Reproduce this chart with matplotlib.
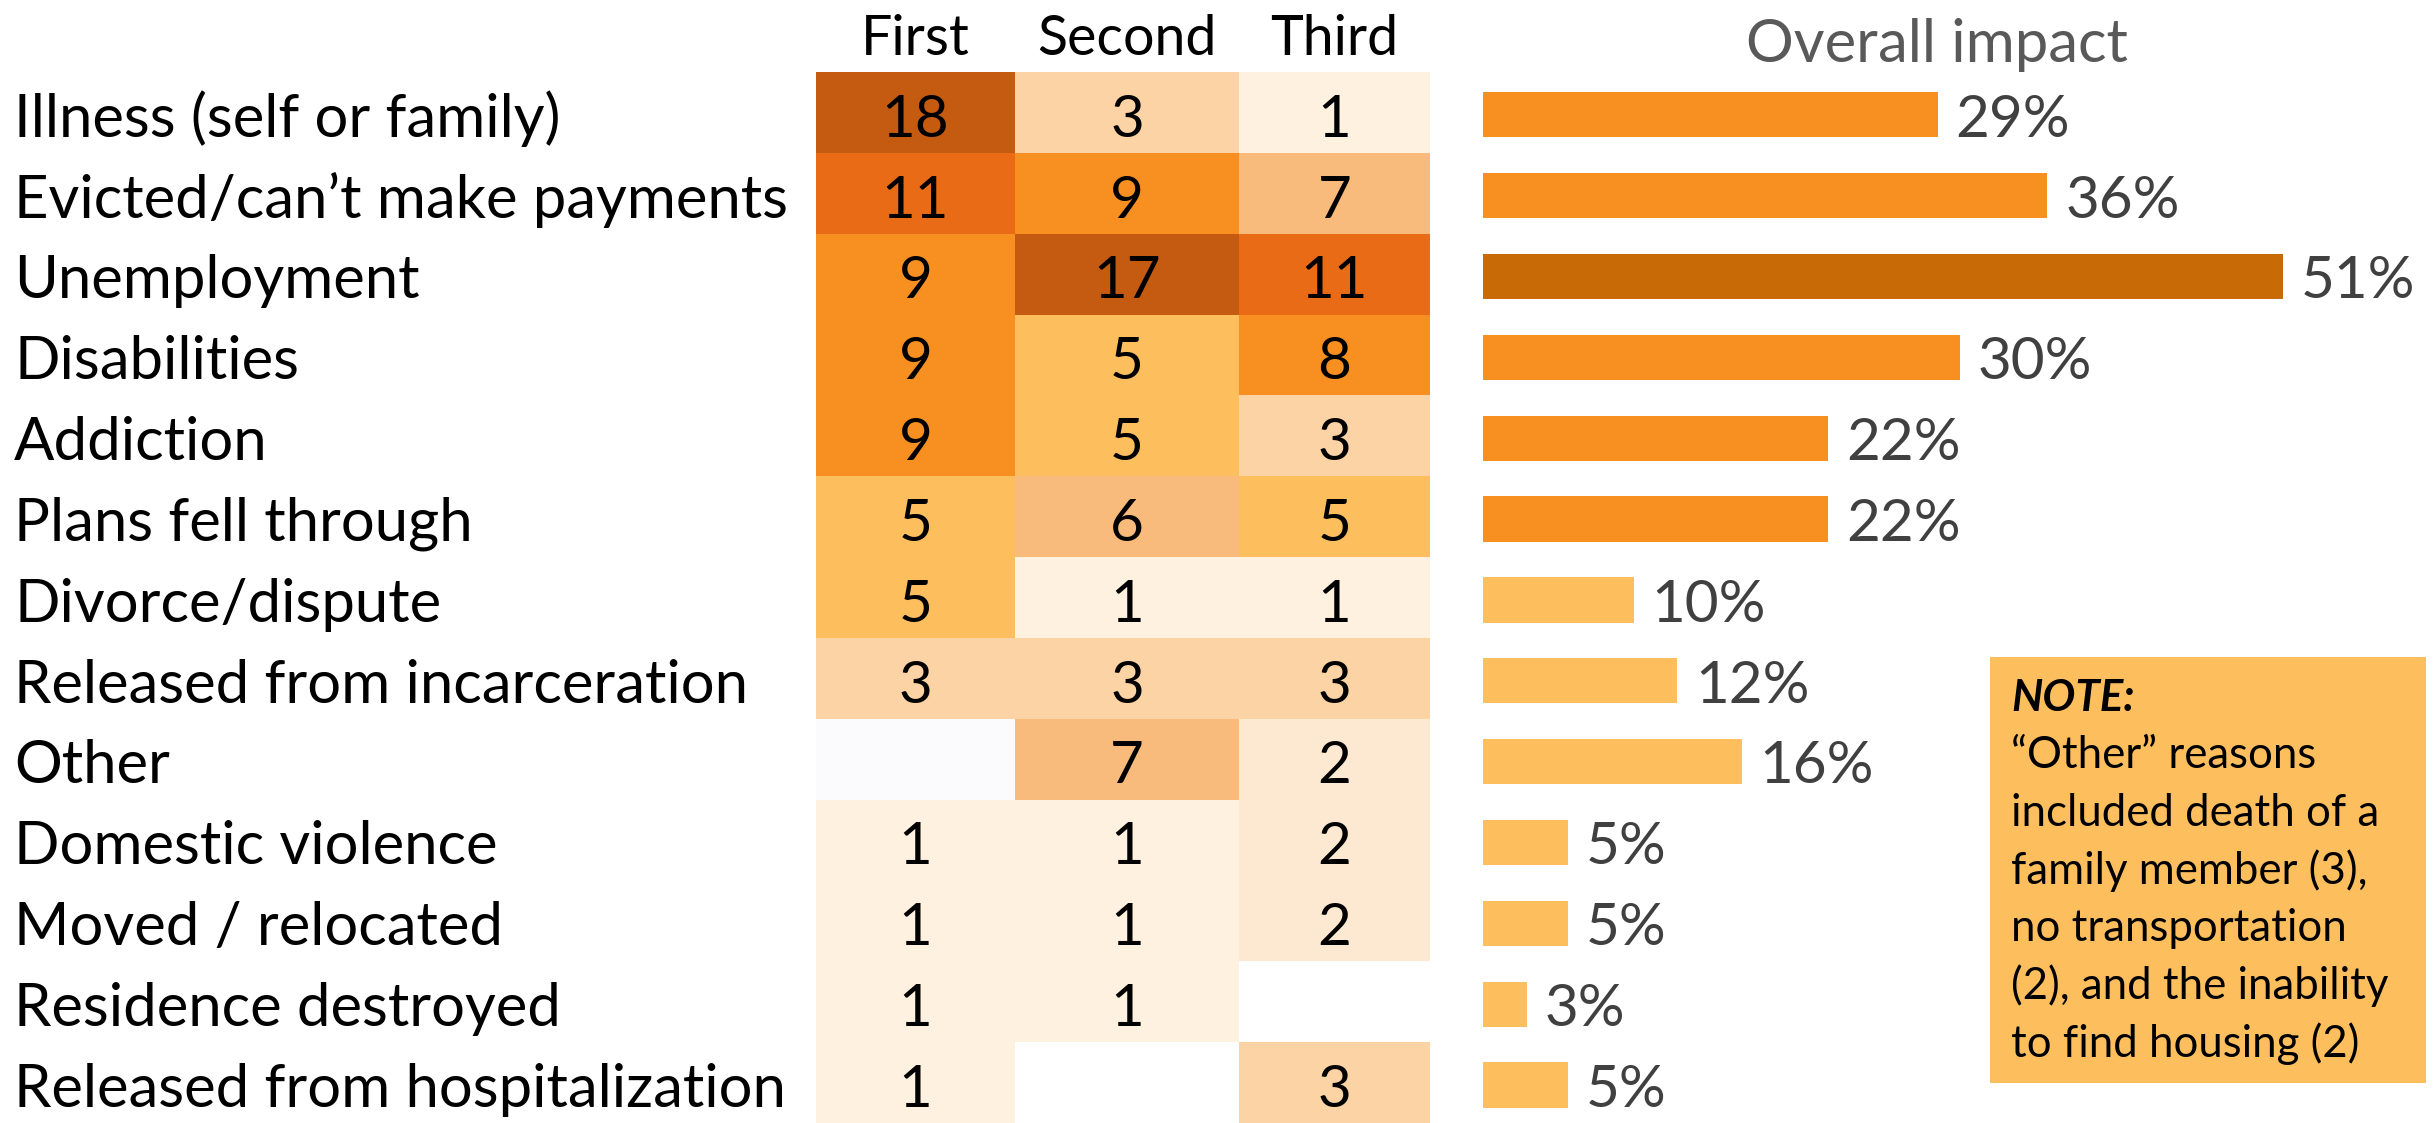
import numpy as np
import matplotlib
matplotlib.use("Agg")
import matplotlib.pyplot as plt
from matplotlib.colors import ListedColormap, BoundaryNorm
from matplotlib.patches import Rectangle
import matplotlib.transforms as mtransforms

# ---------------- data ----------------
reasons = [
    "Illness (self or family)",
    "Evicted/can\u2019t make payments",
    "Unemployment",
    "Disabilities",
    "Addiction",
    "Plans fell through",
    "Divorce/dispute",
    "Released from incarceration",
    "Other",
    "Domestic violence",
    "Moved / relocated",
    "Residence destroyed",
    "Released from hospitalization",
]
rank_labels = ["First", "Second", "Third"]
first = [18, 11, 9, 9, 9, 5, 5, 3, 0, 1, 1, 1, 1]
second = [3, 9, 17, 5, 5, 6, 1, 3, 7, 1, 1, 1, None]
third = [1, 7, 11, 8, 3, 5, 1, 3, 2, 2, 2, None, 3]
impact = [29, 36, 51, 30.4, 22, 22, 9.6, 12.4, 16.5, 5.4, 5.4, 2.8, 5.4]
impact_labels = ["29%", "36%", "51%", "30%", "22%", "22%", "10%", "12%",
                 "16%", "5%", "5%", "3%", "5%"]
impact_title = "Overall impact"
note_title = "NOTE:"
note_lines = [
    "\u201cOther\u201d reasons",
    "included death of a",
    "family member (3),",
    "no transportation",
    "(2), and the inability",
    "to find housing (2)",
]

# ---------------- layout ----------------
W, H = 2433, 1123
plt.rcParams["font.family"] = ["Lato", "DejaVu Sans"]
fig = plt.figure(figsize=(W / 100, H / 100), dpi=100)


def fx(px):
    return px / W


def fy(py):
    return 1 - py / H


FS_ROW = 43
FS_HEAD = 40
FS_CELL = 42
FS_BAR = 42
FS_TITLE = 43
top_px, bot_px = 72, 1123
hm_left, hm_right = 816, 1430
n = len(reasons)
base_off = 0.80  # baseline position inside a row (row units)

ax = fig.add_axes([fx(hm_left), fy(bot_px), (hm_right - hm_left) / W,
                   (bot_px - top_px) / H])
col_edges = np.array([0, 199, 423, 614]) / 614 * 3
Z = np.array([first, second, third], dtype=float).T
Zm = np.ma.masked_invalid(Z)

colors = ["#FBFBFD", "#FEF1DF", "#FDE8D2", "#FBD3A5", "#FDBF5D",
          "#F9BB7B", "#F79020", "#EA6B15", "#C55A11"]
bounds = [-0.5, 0.5, 1.5, 2.5, 4, 5.5, 7.5, 10, 14, 19]
cmap = ListedColormap(colors)
norm = BoundaryNorm(bounds, cmap.N)
ax.pcolormesh(col_edges, np.arange(n + 1), Zm, cmap=cmap, norm=norm,
              edgecolor="none", antialiased=False)
ax.set_xlim(0, 3)
ax.set_ylim(n, 0)
ax.axis("off")

centers = (col_edges[:-1] + col_edges[1:]) / 2
for i in range(n):
    for j in range(3):
        v = Z[i, j]
        if np.isfinite(v) and v > 0:
            ax.text(centers[j], i + base_off, str(int(v)), ha="center",
                    va="baseline", fontsize=FS_CELL, color="black")

tr_head = mtransforms.blended_transform_factory(ax.transData, fig.transFigure)
for j, lab in enumerate(rank_labels):
    ax.text(centers[j], fy(55), lab, transform=tr_head, ha="center",
            va="baseline", fontsize=FS_HEAD, color="black")

tr_rows = mtransforms.blended_transform_factory(fig.transFigure, ax.transData)
for i, lab in enumerate(reasons):
    ax.text(fx(14), i + base_off, lab, transform=tr_rows, ha="left",
            va="baseline", fontsize=FS_ROW, color="black")

# ---------------- bars ----------------
bar_left = 1483
px_per_unit = 15.68
bx = fig.add_axes([fx(bar_left), fy(bot_px), (W - bar_left) / W,
                   (bot_px - top_px) / H])
bar_colors = ["#C86A06" if v > 45 else ("#F79020" if v > 20 else "#FDBF5D")
              for v in impact]
bx.barh(np.arange(n) + 0.53, impact, height=0.56, color=bar_colors)
bx.set_xlim(0, (W - bar_left) / px_per_unit)
bx.set_ylim(n, 0)
bx.axis("off")
for i, (v, lab) in enumerate(zip(impact, impact_labels)):
    bx.text(v + 18 / px_per_unit, i + base_off, lab, ha="left",
            va="baseline", fontsize=FS_BAR, color="#404040")

fig.text(fx(1937), fy(62), impact_title, ha="center", va="baseline",
         fontsize=FS_TITLE, color="#595959")

# ---------------- note box ----------------
box = Rectangle((fx(1990), fy(1083)), (2426 - 1990) / W, (1083 - 657) / H,
                transform=fig.transFigure, facecolor="#FDBF5D",
                edgecolor="none")
fig.add_artist(box)
NFS = 31.5
fig.text(fx(2011), fy(711), note_title, ha="left", va="baseline",
         fontsize=NFS, fontweight="bold", fontstyle="italic", color="black")
for k, line in enumerate(note_lines):
    fig.text(fx(2011), fy(768 + k * 57.8), line, ha="left", va="baseline",
             fontsize=NFS, color="black")

fig.savefig("out.png", dpi=100, facecolor="white")
